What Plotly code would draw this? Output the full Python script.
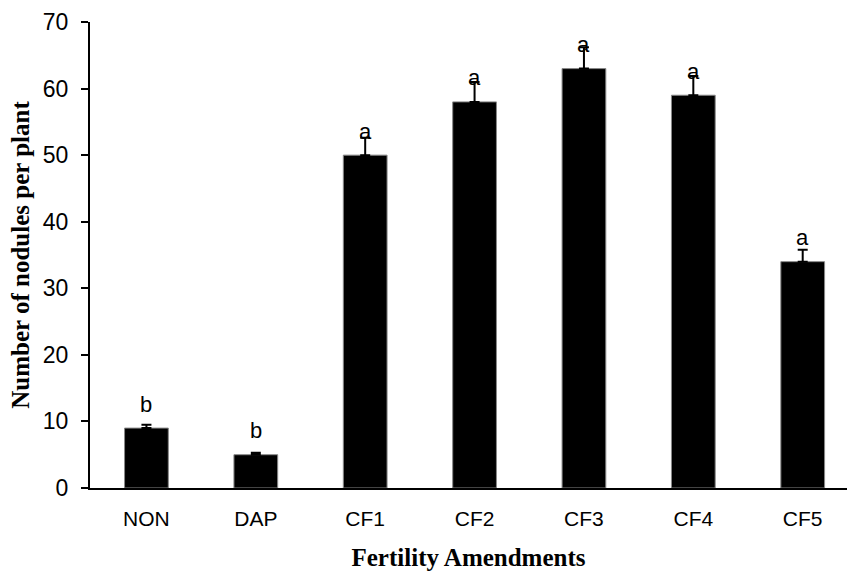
import plotly.graph_objects as go

categories = ["NON", "DAP", "CF1", "CF2", "CF3", "CF4", "CF5"]
values = [9, 5, 50, 58, 63, 59, 34]
errors = [0.5, 0.3, 2.6, 3.0, 3.2, 2.9, 1.8]
letters = ["b", "b", "a", "a", "a", "a", "a"]
y_ticks = [0, 10, 20, 30, 40, 50, 60, 70]

fig = go.Figure()
fig.add_trace(go.Bar(
    x=categories, y=values,
    marker=dict(color="black", line=dict(color="#888888", width=1)),
    width=0.4,
    error_y=dict(type="data", array=errors, symmetric=False, arrayminus=[0]*len(errors),
                 color="black", thickness=2, width=5, visible=True),
))

for c, v, l in zip(categories, values, letters):
    fig.add_annotation(x=c, y=v, text=l, showarrow=False, yanchor="middle", yshift=24,
                       font=dict(family="Liberation Sans", size=22, color="black"))

fig.update_layout(
    width=847, height=572,
    margin=dict(l=90, r=0, t=22, b=84),
    paper_bgcolor="white", plot_bgcolor="white",
    showlegend=False,
    bargap=0.6,
)
fig.update_xaxes(
    range=[-0.516, 6.405],
    showline=True, linecolor="black", linewidth=2,
    ticks="", showgrid=False, zeroline=False,
    tickfont=dict(family="Liberation Sans", size=21, color="black"),
    ticklabelstandoff=11,
    title=dict(text="<b>Fertility Amendments</b>", standoff=19,
               font=dict(family="Liberation Serif", size=25, color="black")),
)
fig.update_yaxes(
    range=[0, 70], tickvals=y_ticks,
    showline=True, linecolor="black", linewidth=2,
    ticks="outside", ticklen=7, tickwidth=2, tickcolor="black",
    showgrid=False, zeroline=False,
    tickfont=dict(family="Liberation Sans", size=23, color="black"),
    ticklabelstandoff=8,
    title=dict(text="<b>Number of nodules per plant</b>", standoff=6,
               font=dict(family="Liberation Serif", size=25, color="black")),
)

fig.write_html("out.html")
